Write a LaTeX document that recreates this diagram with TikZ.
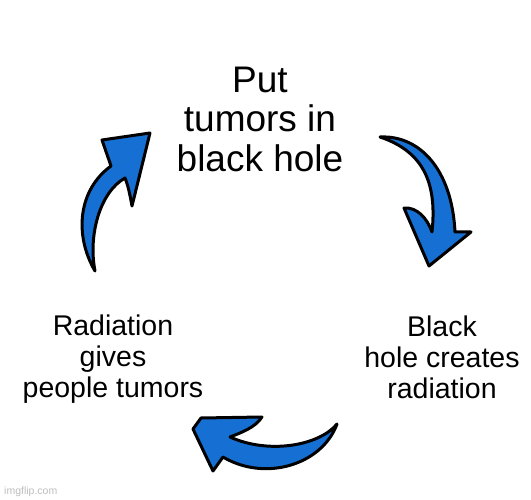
\documentclass[tikz,border=0pt]{standalone}
\usepackage{fontspec}
\setmainfont{Liberation Sans}
\definecolor{arrowblue}{RGB}{22,112,212}
\definecolor{wmgrey}{RGB}{190,190,190}
\begin{document}
\begin{tikzpicture}[x=1pt,y=-1pt,
  blobarrow/.style={fill=arrowblue,draw=black,line width=3pt,line join=round},
  toptext/.style={align=center,font=\fontsize{37}{40}\selectfont,inner sep=0pt},
  sidetext/.style={align=center,font=\fontsize{28.5}{31}\selectfont,inner sep=0pt}]
\useasboundingbox[fill=white] (0,0) rectangle (531,500);
% texts
\node[toptext,anchor=base] (top) at (260,172) {Put\\tumors in\\black hole};
\node[sidetext,anchor=base] (right) at (442,398) {Black\\hole creates\\radiation};
\node[sidetext,anchor=base] (left) at (113,397) {Radiation\\gives\\people tumors};
\node[anchor=base west,inner sep=0pt,text=wmgrey,font=\fontsize{10.5}{12}\selectfont] (wm) at (4,494) {imgflip.com};
% right arrow (down)
\draw[blobarrow] (380,137) .. controls (420,135) and (452,170) .. (455,232)
  -- (471,232) -- (429,266) -- (404,208)
  .. controls (417,207) and (427,218) .. (432,232)
  .. controls (437,185) and (425,152) .. (380,137) -- cycle;
% bottom arrow (left)
\draw[blobarrow] (337,424) .. controls (322,465) and (265,482) .. (223,457)
  -- (213,471) -- (193,429) -- (201,418) -- (262,417)
  .. controls (255,428) and (240,433) .. (230,437)
  .. controls (270,455) and (320,445) .. (337,424) -- cycle;
% left arrow (up)
\draw[blobarrow] (95,271) .. controls (74,235) and (78,190) .. (111,166)
  -- (102,140) -- (150,133) -- (132,206)
  .. controls (130,195) and (128,185) .. (125,178)
  .. controls (100,192) and (88,235) .. (95,271) -- cycle;
\end{tikzpicture}
\end{document}
